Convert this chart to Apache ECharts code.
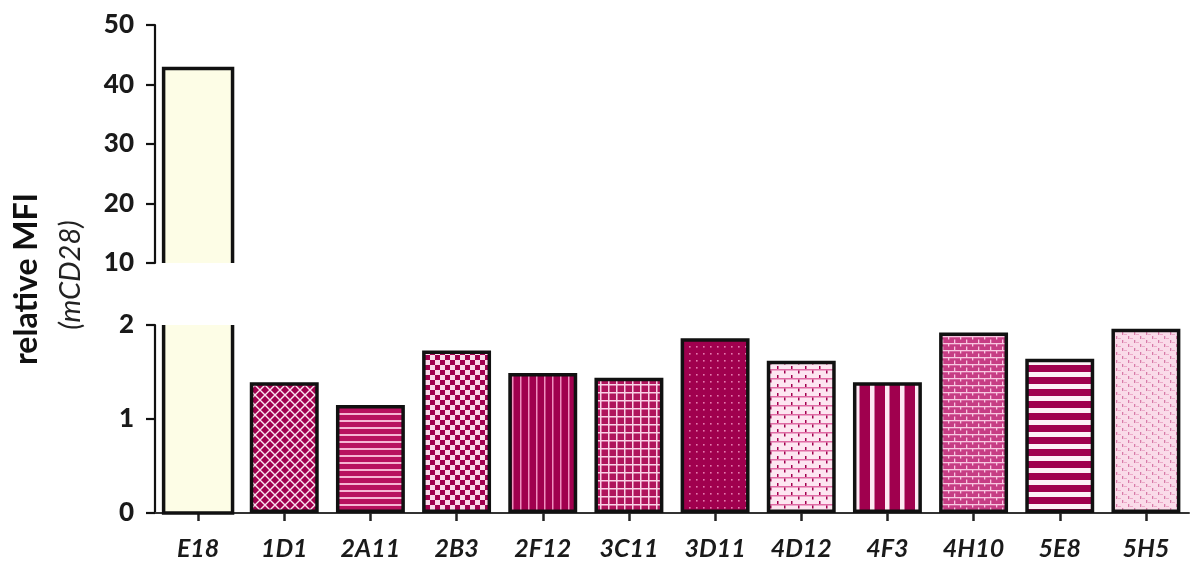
<!DOCTYPE html>
<html><head><meta charset="utf-8">
<script src="https://cdn.jsdelivr.net/npm/echarts@6/dist/echarts.min.js"></script>
<style>html,body{margin:0;padding:0;background:#fff}#c{width:1190px;height:562px}</style>
</head><body><div id="c"></div>
<script>
// ---- data ----
const categories = ['E18', '1D1', '2A11', '2B3', '2F12', '3C11', '3D11', '4D12', '4F3', '4H10', '5E8', '5H5'];
const values = [42.7, 1.39, 1.15, 1.73, 1.49, 1.44, 1.86, 1.62, 1.39, 1.92, 1.64, 1.96];
const upperTicks = [10, 20, 30, 40, 50];
const lowerTicks = [0, 1, 2];
const yTitle = 'relative MFI';
const ySubtitle = '(mCD28)';

// ---- styles ----
const DARK = '#a0004e';
const CREAM = '#fdfde6';
const BORDER = '#111';
const BW = 3.5;
const BAR_FRAC = 0.8;

function pat(w, h, draw) {
  const c = document.createElement('canvas');
  c.width = w; c.height = h;
  const g = c.getContext('2d');
  draw(g, w, h);
  return { image: c, repeat: 'repeat' };
}
const patterns = {
  '1D1': pat(10, 10, (g, w, h) => {
    g.fillStyle = DARK; g.fillRect(0, 0, w, h);
    g.strokeStyle = '#fbe0ee'; g.lineWidth = 1.4;
    g.beginPath(); g.moveTo(-1, -1); g.lineTo(w + 1, h + 1); g.moveTo(-1, h + 1); g.lineTo(w + 1, -1); g.stroke();
  }),
  '2A11': pat(6, 7, (g, w, h) => {
    g.fillStyle = '#b8115f'; g.fillRect(0, 0, w, h);
    g.fillStyle = '#f6b4d3'; g.fillRect(0, 0, w, 2);
  }),
  '2B3': pat(10, 10, (g, w, h) => {
    g.fillStyle = '#fbd9ea'; g.fillRect(0, 0, w, h);
    g.fillStyle = DARK; g.fillRect(0, 0, 5, 5); g.fillRect(5, 5, 5, 5);
  }),
  '2F12': pat(8, 6, (g, w, h) => {
    g.fillStyle = DARK; g.fillRect(0, 0, w, h);
    g.fillStyle = '#ef8fbf'; g.fillRect(0, 0, 1.5, h);
  }),
  '3C11': pat(8, 8, (g, w, h) => {
    g.fillStyle = '#b0145c'; g.fillRect(0, 0, w, h);
    g.fillStyle = '#f9d2e6'; g.fillRect(0, 0, w, 1.5); g.fillRect(0, 0, 1.5, h);
  }),
  '3D11': pat(7, 7, (g, w, h) => {
    g.fillStyle = DARK; g.fillRect(0, 0, w, h);
    g.fillStyle = '#e47aae'; g.fillRect(3, 3, 1.6, 1.6);
  }),
  '4D12': pat(14, 9, (g, w, h) => {
    g.fillStyle = '#fde6f1'; g.fillRect(0, 0, w, h);
    g.fillStyle = '#e06aa4'; g.fillRect(0, 0, w, 1.5);
    g.fillStyle = DARK; g.fillRect(0, 1.5, 1.5, 3); g.fillRect(7, 6, 1.5, 3);
  }),
  '4F3': pat(15, 6, (g, w, h) => {
    g.fillStyle = DARK; g.fillRect(0, 0, w, h);
    g.fillStyle = '#fde8f3'; g.fillRect(0, 0, 4.5, h);
  }),
  '4H10': pat(12, 7, (g, w, h) => {
    g.fillStyle = '#c63d84'; g.fillRect(0, 0, w, h);
    g.fillStyle = '#f8c6e0'; g.fillRect(0, 0, w, 1.3);
    g.fillRect(0, 0, 1.3, 3.5); g.fillRect(6, 3.5, 1.3, 3.5);
  }),
  '5E8': pat(6, 12, (g, w, h) => {
    g.fillStyle = DARK; g.fillRect(0, 0, w, h);
    g.fillStyle = '#fdf0f6'; g.fillRect(0, 0, w, 5);
  }),
  '5H5': pat(12, 8, (g, w, h) => {
    g.fillStyle = '#fadbe9'; g.fillRect(0, 0, w, h);
    g.fillStyle = '#d77aa8'; g.fillRect(0, 0, 1.3, 3); g.fillRect(6, 4, 1.3, 3);
    g.fillStyle = '#ecaac9'; g.fillRect(2, 2, 3, 1); g.fillRect(8, 6, 3, 1);
  })
};

const upperMin = upperTicks[0], upperMax = upperTicks[upperTicks.length - 1];
const lowerMin = lowerTicks[0], lowerMax = lowerTicks[lowerTicks.length - 1];
const tallData = [], normalData = [];
values.forEach((v, i) => {
  if (v > lowerMax) { tallData.push([i, v]); normalData.push('-'); }
  else normalData.push({ value: v, itemStyle: { color: patterns[categories[i]] || DARK } });
});

const FONT = 'Lato';
const chart = echarts.init(document.getElementById('c'), null, { renderer: 'canvas' });

function yAxisCommon(min, max, interval, gridIndex) {
  return {
    type: 'value', gridIndex, min, max, interval,
    axisLine: { show: true, lineStyle: { color: '#111', width: 2.2 } },
    axisTick: { show: true, length: 9, lineStyle: { color: '#111', width: 2.2 } },
    axisLabel: { color: '#1a1a1a', fontFamily: FONT, fontWeight: 900, fontSize: 26, margin: 21 },
    splitLine: { show: false }
  };
}

chart.setOption({
  animation: false,
  grid: [
    { left: 155, right: 1, top: 25, height: 238 },
    { left: 155, right: 1, top: 325, height: 188 }
  ],
  xAxis: [
    { type: 'category', gridIndex: 0, data: categories, show: false },
    {
      type: 'category', gridIndex: 1, data: categories,
      axisLine: { show: true, lineStyle: { color: '#333', width: 2 } },
      axisTick: { show: true, alignWithLabel: true, length: 8, lineStyle: { color: '#222', width: 2.5 } },
      axisLabel: { color: '#1a1a1a', fontFamily: FONT, fontWeight: 'bold', fontStyle: 'italic', fontSize: 25, margin: 23 }
    }
  ],
  yAxis: [
    yAxisCommon(upperMin, upperMax, upperTicks[1] - upperTicks[0], 0),
    yAxisCommon(lowerMin, lowerMax, lowerTicks[1] - lowerTicks[0], 1)
  ],
  series: [
    {
      type: 'bar', xAxisIndex: 1, yAxisIndex: 1, data: normalData,
      barWidth: (BAR_FRAC * 100) + '%',
      itemStyle: { borderColor: BORDER, borderWidth: BW }
    },
    {
      type: 'custom', xAxisIndex: 1, yAxisIndex: 1, data: tallData,
      renderItem(params, api) {
        const idx = api.value(0), v = api.value(1);
        const base = api.coord([idx, lowerMin]);
        const top = api.coord([idx, Math.min(v, lowerMax)]);
        const w = api.size([1, 0])[0] * BAR_FRAC;
        const x0 = base[0] - w / 2, x1 = base[0] + w / 2;
        return { type: 'group', children: [
          { type: 'rect', shape: { x: x0, y: top[1], width: w, height: base[1] - top[1] }, style: { fill: CREAM } },
          { type: 'polyline', shape: { points: [[x0, top[1]], [x0, base[1]], [x1, base[1]], [x1, top[1]]] }, style: { stroke: BORDER, lineWidth: BW, fill: null } }
        ] };
      }
    },
    {
      type: 'custom', xAxisIndex: 0, yAxisIndex: 0, data: tallData,
      renderItem(params, api) {
        const idx = api.value(0), v = api.value(1);
        const base = api.coord([idx, upperMin]);
        const top = api.coord([idx, v]);
        const w = api.size([1, 0])[0] * BAR_FRAC;
        const x0 = base[0] - w / 2, x1 = base[0] + w / 2;
        return { type: 'group', children: [
          { type: 'rect', shape: { x: x0, y: top[1], width: w, height: base[1] - top[1] }, style: { fill: CREAM } },
          { type: 'polyline', shape: { points: [[x0, base[1]], [x0, top[1]], [x1, top[1]], [x1, base[1]]] }, style: { stroke: BORDER, lineWidth: BW, fill: null } }
        ] };
      }
    }
  ],
  graphic: [
    { type: 'text', x: 27, y: 279, rotation: Math.PI / 2,
      style: { text: yTitle, font: 'bold 32px ' + FONT, fill: '#111', textAlign: 'center', textVerticalAlign: 'middle' } },
    { type: 'text', x: 71, y: 275, rotation: Math.PI / 2,
      style: { text: ySubtitle, font: 'italic 29px ' + FONT, fill: '#222', textAlign: 'center', textVerticalAlign: 'middle' } }
  ]
});
</script>
</body></html>
